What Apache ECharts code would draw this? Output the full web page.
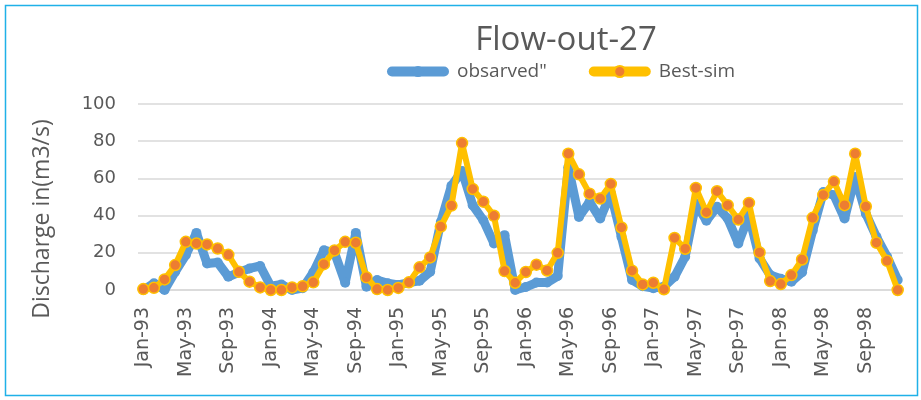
<!DOCTYPE html>
<html>
<head>
<meta charset="utf-8">
<script src="https://cdn.jsdelivr.net/npm/echarts@6/dist/echarts.min.js"></script>
<style>
  html, body { margin: 0; padding: 0; background: #fff; }
  #chart { width: 921px; height: 400px; }
</style>
</head>
<body>
<div id="chart"></div>
<script>
// month / year pieces used to build the category labels
var monthNames = ["Jan", "Feb", "Mar", "Apr", "May", "Jun", "Jul", "Aug", "Sep", "Oct", "Nov", "Dec"];
var years = ["93", "94", "95", "96", "97", "98"];

var categories = [];
years.forEach(function (y) {
    monthNames.forEach(function (m) {
        categories.push(m + "-" + y);
    });
});

// observed discharge (m3/s)
var observed = [
    0, 3.6, 0, 9.8, 18.8, 30.7, 14.3, 14.8, 7.1, 9.5, 11.6, 12.9,
    2, 3, 0, 1, 9.5, 21.4, 20, 3.9, 30.7, 1.8, 5.4, 3.6,
    2.7, 4, 5, 9.8, 36.6, 56, 64, 45.6, 37.5, 25, 29.5, 0,
    1.6, 4, 4, 7.5, 66, 39.3, 47.4, 38.4, 52, 28.6, 5.4, 2,
    1, 1.8, 7.1, 17.9, 46.5, 37.2, 44.7, 38.4, 25, 40, 17, 8,
    6, 4.5, 9.5, 32, 52.7, 51, 38.4, 60.8, 41, 28.6, 17.9, 5.4
];

// best simulation
var bestSim = [
    0.5, 1.2, 5.7, 13.4, 25.9, 25, 24.5, 22.3, 18.9, 9.8, 4.5, 1.4,
    0, 0, 1.4, 2, 4.1, 13.9, 21.3, 25.9, 25.4, 6.8, 0.5, 0,
    1.1, 4.1, 12.2, 17.5, 34.1, 45.4, 79, 54.3, 47.5, 39.9, 10.2, 3.9,
    9.7, 13.6, 10.5, 20, 73.3, 62.2, 51.8, 49.2, 57, 33.6, 10.4, 3,
    3.9, 0.4, 28, 22.2, 54.9, 41.8, 53.1, 45.6, 37.9, 46.8, 20.2, 4.8,
    3.2, 8, 16.4, 38.8, 51.1, 58.3, 45.6, 73.3, 44.9, 25.4, 15.7, 0
];

var myChart = echarts.init(document.getElementById("chart"));
var textColor = "#595959";
var gridColor = "#d9d9d9";

var option = {
    animation: false,
    backgroundColor: "#fff",
    graphic: [{
        type: "rect",
        shape: { x: 5.5, y: 5.5, width: 912, height: 390 },
        style: { fill: null, stroke: "#1fb1e8", lineWidth: 1.5 },
        silent: true
    }],
    title: {
        text: "Flow-out-27",
        left: 561,
        top: 19,
        textAlign: "center",
        textStyle: {
            fontFamily: "Open Sans",
            fontSize: 33,
            fontWeight: "normal",
            color: textColor
        }
    },
    legend: {
        left: 382,
        top: 57,
        itemWidth: 52,
        itemHeight: 14,
        itemGap: 42,
        textStyle: {
            fontFamily: "Open Sans",
            fontSize: 19,
            color: textColor,
            padding: [0, 0, 0, 8]
        },
        data: [
            { name: "obsarved\"", lineStyle: { width: 10, cap: "round" } },
            { name: "Best-sim", lineStyle: { width: 10, cap: "round" } }
        ]
    },
    grid: {
        left: 138,
        right: 18,
        top: 104,
        bottom: 110
    },
    xAxis: {
        type: "category",
        data: categories,
        boundaryGap: true,
        axisLine: { lineStyle: { color: gridColor, width: 1.5 } },
        axisTick: {
            interval: 3,
            length: 6,
            lineStyle: { color: gridColor, width: 1.5 }
        },
        axisLabel: {
            interval: 3,
            rotate: 90,
            margin: 17,
            fontFamily: "DejaVu Sans",
            fontSize: 19,
            color: textColor
        }
    },
    yAxis: {
        type: "value",
        min: 0,
        max: 100,
        interval: 20,
        name: "Discharge in(m3/s)",
        nameLocation: "middle",
        nameGap: 84,
        nameTextStyle: {
            fontFamily: "Open Sans",
            fontSize: 23,
            color: textColor,
            padding: [0, 44, 0, 0]
        },
        axisLine: { show: false },
        axisTick: { show: false },
        axisLabel: {
            margin: 22,
            fontFamily: "DejaVu Sans",
            fontSize: 18,
            color: textColor
        },
        splitLine: { lineStyle: { color: gridColor, width: 1.5 } }
    },
    series: [
        {
            name: "obsarved\"",
            type: "line",
            data: observed,
            symbol: "circle",
            symbolSize: 10,
            showAllSymbol: true,
            lineStyle: { color: "#5b9bd5", width: 9 },
            itemStyle: { color: "#5b9bd5" },
            z: 2
        },
        {
            name: "Best-sim",
            type: "line",
            data: bestSim,
            symbol: "circle",
            symbolSize: 11,
            showAllSymbol: true,
            lineStyle: { color: "#ffc000", width: 6 },
            itemStyle: { color: "#ed7d31", borderColor: "#ffc000", borderWidth: 1.5 },
            z: 3
        }
    ]
};

myChart.setOption(option);
</script>
</body>
</html>
